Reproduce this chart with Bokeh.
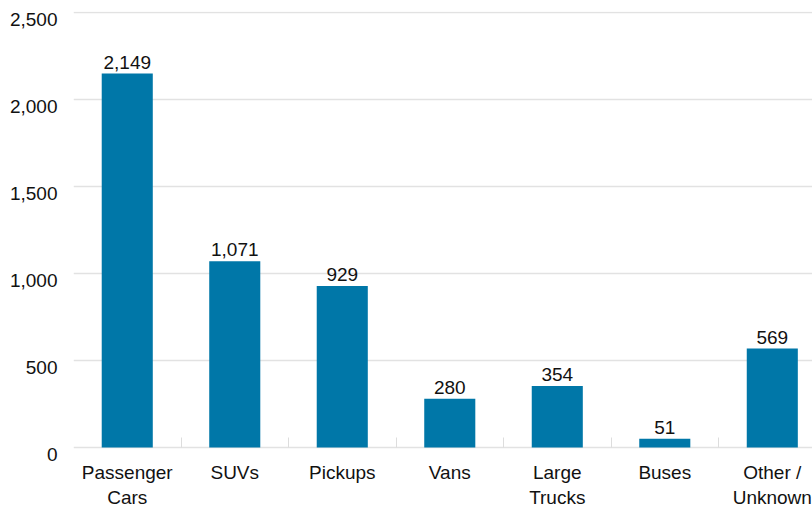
from bokeh.plotting import figure
from bokeh.models import Range1d, FixedTicker, ColumnDataSource
from bokeh.core.properties import value
from bokeh.embed import file_html
from bokeh.resources import INLINE

categories = ["Passenger\nCars", "SUVs", "Pickups", "Vans", "Large\nTrucks", "Buses", "Other /\nUnknown"]
counts = [2149, 1071, 929, 280, 354, 51, 569]
y_ticks = [0, 500, 1000, 1500, 2000, 2500]

FONT = "Liberation Sans"
BAR = "#0077A8"
FS = "19px"
LABEL_DROP = 40.1   # y-axis labels sit ~7px below their gridlines, as in the reference
TOP_PAD = 6         # keeps the 2,500 gridline fully inside the frame

xs = [i + 0.5 for i in range(len(categories))]
labels = [f"{v:,}" for v in counts]
src = ColumnDataSource(dict(x=xs, top=counts, label=labels))

p = figure(width=812, height=510, output_backend="svg", toolbar_location=None,
           x_range=Range1d(0, 6.874), y_range=Range1d(-LABEL_DROP, 2500 + TOP_PAD),
           min_border_left=73, min_border_right=0, min_border_top=11, min_border_bottom=55)
p.outline_line_color = None
p.background_fill_color = "white"
p.border_fill_color = "white"

p.vbar(x="x", top="top", bottom=0, width=0.475, source=src, color=BAR, line_color=None)
p.text(x="x", y="top", text="label", source=src, text_align="center", text_baseline="bottom",
       y_offset=-5, text_font=value(FONT), text_font_size=FS, text_color="#111111")

# x axis (sits at the frame bottom; the zero gridline is the visible baseline)
xa = p.xaxis[0]
xa.ticker = FixedTicker(ticks=xs, minor_ticks=list(range(1, len(categories))))
xa.major_label_overrides = {x: c for x, c in zip(xs, categories)}
xa.major_tick_line_color = None
xa.minor_tick_in = 17
xa.minor_tick_out = -7
xa.minor_tick_line_color = "#dddddd"
xa.axis_line_color = None
xa.major_label_text_font = FONT
xa.major_label_text_font_size = FS
xa.major_label_text_color = "#111111"
xa.major_label_standoff = 1
p.xgrid.grid_line_color = None

# y axis
shifted = [t - LABEL_DROP for t in y_ticks]
ya = p.yaxis[0]
ya.ticker = FixedTicker(ticks=shifted)
ya.major_label_overrides = {s: f"{t:,}" for s, t in zip(shifted, y_ticks)}
ya.axis_line_color = None
ya.major_tick_line_color = None
ya.minor_tick_line_color = None
ya.major_label_standoff = 10
ya.major_label_text_font = FONT
ya.major_label_text_font_size = FS
ya.major_label_text_color = "#111111"
p.ygrid.ticker = FixedTicker(ticks=y_ticks)
p.ygrid.grid_line_color = "#e2e2e2"
p.ygrid.grid_line_width = 1.5

open("out.html", "w").write(file_html(p, INLINE))
